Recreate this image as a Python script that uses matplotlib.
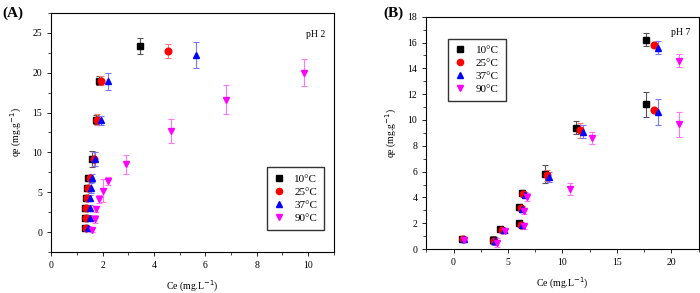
import matplotlib
matplotlib.use('Agg')
import matplotlib.pyplot as plt
from matplotlib.ticker import MultipleLocator
from matplotlib.lines import Line2D

plt.rcParams['font.family'] = ['Liberation Serif', 'DejaVu Serif']

labels = ['10°C', '25°C', '37°C', '90°C']
colors = ['#000000', '#ff0000', '#0000ff', '#ff00ff']
ecolors = ['#555555', '#ff7777', '#7777ff', '#ff77ff']
markers = ['s', 'o', '^', 'v']

# pH 2 (panel A)
a_x = [
    [1.30, 1.30, 1.30, 1.35, 1.40, 1.45, 1.60, 1.75, 1.85, 3.45],
    [1.35, 1.35, 1.35, 1.40, 1.45, 1.50, 1.65, 1.80, 1.95, 4.55],
    [1.45, 1.50, 1.50, 1.50, 1.55, 1.60, 1.70, 1.95, 2.20, 5.65],
    [1.60, 1.70, 1.75, 1.85, 2.00, 2.20, 2.90, 4.65, 6.80, 9.85],
]
a_y = [
    [0.5, 1.8, 3.0, 4.3, 5.5, 6.8, 9.2, 14.1, 19.0, 23.3],
    [0.5, 1.8, 3.0, 4.3, 5.5, 6.8, 9.2, 14.1, 19.0, 22.7],
    [0.5, 1.8, 3.0, 4.3, 5.5, 6.8, 9.2, 14.0, 18.9, 22.2],
    [0.3, 1.6, 2.9, 4.1, 5.2, 6.4, 8.5, 12.7, 16.6, 20.0],
]
a_err = [
    [0.3, 0.3, 0.3, 0.4, 0.4, 0.4, 1.0, 0.6, 0.6, 1.0],
    [0.3, 0.3, 0.3, 0.4, 0.4, 0.4, 0.9, 0.7, 0.6, 0.9],
    [0.3, 0.4, 0.4, 0.4, 0.6, 0.5, 0.9, 0.6, 1.1, 1.6],
    [0.3, 0.5, 0.4, 0.5, 1.4, 0.5, 1.2, 1.5, 1.8, 1.7],
]

# pH 7 (panel B)
b_x = [
    [0.80, 3.60, 4.30, 6.00, 6.00, 6.30, 8.40, 11.20, 17.70, 17.70],
    [0.90, 3.75, 4.45, 6.15, 6.15, 6.40, 8.60, 11.60, 18.40, 18.40],
    [0.95, 3.85, 4.60, 6.30, 6.30, 6.55, 8.80, 11.85, 18.80, 18.80],
    [1.00, 3.95, 4.70, 6.50, 6.50, 6.75, 10.70, 12.75, 20.70, 20.70],
]
b_y = [
    [0.80, 0.70, 1.55, 2.00, 3.25, 4.35, 5.80, 9.40, 11.20, 16.20],
    [0.80, 0.65, 1.50, 1.90, 3.15, 4.30, 5.70, 9.20, 10.80, 15.80],
    [0.80, 0.60, 1.45, 1.85, 3.10, 4.20, 5.60, 9.10, 10.60, 15.60],
    [0.70, 0.50, 1.40, 1.75, 2.95, 4.05, 4.65, 8.60, 9.65, 14.60],
]
b_err = [
    [0.15, 0.30, 0.15, 0.20, 0.20, 0.20, 0.70, 0.50, 1.00, 0.50],
    [0.15, 0.30, 0.15, 0.20, 0.20, 0.20, 0.40, 0.60, 0.10, 0.10],
    [0.15, 0.30, 0.15, 0.20, 0.20, 0.20, 0.40, 0.50, 1.00, 0.50],
    [0.15, 0.35, 0.15, 0.20, 0.20, 0.30, 0.50, 0.50, 1.00, 0.50],
]

fig = plt.figure(figsize=(7, 2.93), dpi=100)
axA = fig.add_axes([0.073, 0.140, 0.404, 0.816])
axB = fig.add_axes([0.609, 0.150, 0.389, 0.793])

handles = [Line2D([], [], ls='none', marker=markers[i], color=colors[i],
                  markersize=4.5, label=labels[i]) for i in range(4)]


def draw(ax, xs, ys, errs):
    for i in range(4):
        ax.errorbar(xs[i], ys[i], yerr=errs[i], fmt=markers[i], color=colors[i],
                    ecolor=ecolors[i], elinewidth=0.8, capsize=2, capthick=0.8,
                    markersize=4.8)
    for s in ax.spines.values():
        s.set_linewidth(0.8)
    ax.tick_params(labelsize=7, direction='out', length=3, width=0.6)
    ax.tick_params(which='minor', direction='out', length=2, width=0.5)
    ax.set_xlabel('Ce (mg.L$^{-1}$)', fontsize=7, labelpad=6)
    ax.set_ylabel('qe (mg.g$^{-1}$)', fontsize=7, labelpad=6)


legend_kw = dict(handles=handles, fontsize=8, fancybox=False, edgecolor='#333333',
                 handletextpad=0.9, borderpad=0.6, labelspacing=0.3,
                 handlelength=1.0, framealpha=1)

draw(axA, a_x, a_y, a_err)
axA.set_xlim(0, 11)
axA.set_ylim(-2.5, 27.5)
axA.xaxis.set_major_locator(MultipleLocator(2))
axA.xaxis.set_minor_locator(MultipleLocator(1))
axA.yaxis.set_major_locator(MultipleLocator(5))
axA.yaxis.set_minor_locator(MultipleLocator(2.5))
axA.text(0.97, 0.93, 'pH 2', transform=axA.transAxes, ha='right', va='top', fontsize=7)
axA.legend(loc='lower right', bbox_to_anchor=(0.985, 0.07), **legend_kw)

draw(axB, b_x, b_y, b_err)
axB.set_xlim(-2.5, 22.5)
axB.set_ylim(0, 18)
axB.xaxis.set_major_locator(MultipleLocator(5))
axB.xaxis.set_minor_locator(MultipleLocator(2.5))
axB.yaxis.set_major_locator(MultipleLocator(2))
axB.yaxis.set_minor_locator(MultipleLocator(1))
axB.text(0.97, 0.95, 'pH 7', transform=axB.transAxes, ha='right', va='top', fontsize=7)
axB.legend(loc='upper left', bbox_to_anchor=(0.06, 0.93), **legend_kw)

fig.text(0.003, 0.955, '(A)', fontsize=11, fontweight='bold', va='center')
fig.text(0.547, 0.955, '(B)', fontsize=11, fontweight='bold', va='center')

fig.savefig('out.png', dpi=100)
